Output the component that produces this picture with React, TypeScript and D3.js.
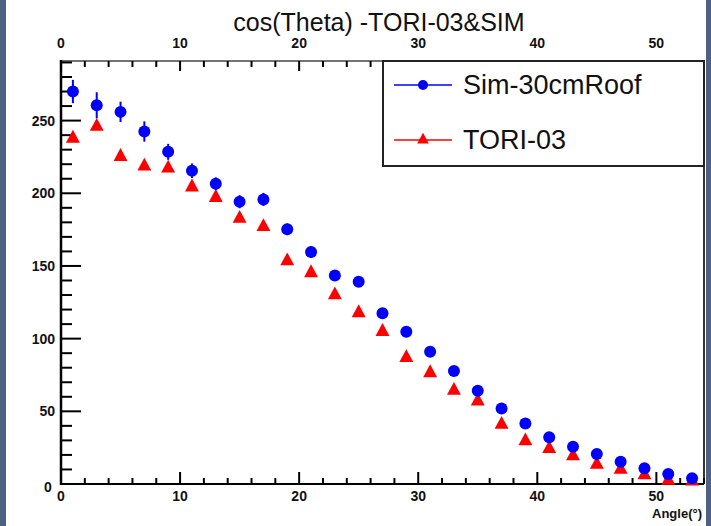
import React from "react";
import * as d3 from "d3";

// Bin centres (degrees) shared by both series
const angles = [1, 3, 5, 7, 9, 11, 13, 15, 17, 19, 21, 23, 25, 27, 29, 31, 33, 35, 37, 39, 41, 43, 45, 47, 49, 51, 53];

// Simulation with 30 cm roof
const simValues = [270, 260.5, 256, 242.5, 228.5, 215.5, 206.5, 194.2, 195.8, 175.2, 159.6, 143.5, 139.1, 117.4, 104.8, 91, 77.7, 64.2, 52, 41.7, 32.1, 25.7, 20.6, 15.3, 10.8, 6.9, 3.9];
const simErrors = [8, 9, 7, 7, 5.5, 5, 4.5, 4.5, 4.5, 4, 4, 3.5, 3.5, 3.5, 3, 3, 3, 2.5, 2.5, 2, 2, 2, 1.5, 1.5, 1.5, 1, 1];

// TORI-03 measurement
const toriValues = [238.5, 246.7, 226, 219.4, 218, 205, 197.8, 183.4, 177.7, 154.2, 146, 130.8, 118.5, 105.6, 87.6, 77.2, 65.1, 57.8, 41.7, 30.3, 25, 20, 14.2, 10.8, 6.9, 3.2, 2.7];

const xTickLabels = [0, 10, 20, 30, 40, 50];
const yTickLabels = [0, 50, 100, 150, 200, 250];

const W = 711;
const H = 526;
const left = 61;
const right = 704;
const top = 61;
const bottom = 484;

const font = "'Liberation Sans', Arial, Helvetica, sans-serif";

export default function App() {
  const x = d3.scaleLinear().domain([0, 54]).range([left, right]);
  const y = d3.scaleLinear().domain([0, 291]).range([bottom, top]);

  const xMinor = d3.range(0, 54.01, 2).filter((v) => v % 10 !== 0);
  const yMinor = d3.range(0, 291, 10).filter((v) => v % 50 !== 0);

  const tri = (cx: number, cy: number, s: number) =>
    `M${cx},${cy - s * 0.62} L${cx + s * 0.58},${cy + s * 0.45} L${cx - s * 0.58},${cy + s * 0.45} Z`;

  return (
    <div style={{ position: "absolute", left: 0, top: 0 }}>
      <svg width={W} height={H} style={{ display: "block", fontFamily: font }}>
        <rect x={0} y={0} width={W} height={H} fill="#ffffff" />
        <rect x={0} y={0} width={6} height={H} fill="#4d6283" />
        <rect x={706} y={0} width={5} height={H} fill="#4d6283" />

        {/* title */}
        <text x={379} y={31} textAnchor="middle" fontSize={25} fill="#111">
          cos(Theta) -TORI-03&amp;SIM
        </text>

        {/* frame */}
        <line x1={left} x2={right} y1={top} y2={top} stroke="#444" strokeWidth={1.5} />
        <line x1={right} x2={right} y1={top} y2={bottom} stroke="#333" strokeWidth={2} />
        <line x1={left} x2={left} y1={top - 1} y2={bottom + 1} stroke="#000" strokeWidth={2.5} />
        <line x1={left - 1} x2={right} y1={bottom} y2={bottom} stroke="#000" strokeWidth={2.2} />

        {/* bottom axis */}
        {xTickLabels.map((t) => (
          <g key={`bx${t}`}>
            <line x1={x(t)} x2={x(t)} y1={bottom} y2={bottom - 12} stroke="#000" strokeWidth={2} />
            <text x={x(t)} y={501} textAnchor="middle" fontSize={14} fontWeight="bold" fill="#111">{t}</text>
          </g>
        ))}
        {xMinor.map((t) => (
          <line key={`bm${t}`} x1={x(t)} x2={x(t)} y1={bottom} y2={bottom - 6} stroke="#000" strokeWidth={2} />
        ))}

        {/* top axis */}
        {xTickLabels.map((t) => (
          <g key={`tx${t}`}>
            <line x1={x(t)} x2={x(t)} y1={top} y2={top + 10} stroke="#000" strokeWidth={2} />
            <text x={x(t)} y={48} textAnchor="middle" fontSize={14} fontWeight="bold" fill="#111">{t}</text>
          </g>
        ))}
        {xMinor.map((t) => (
          <line key={`tm${t}`} x1={x(t)} x2={x(t)} y1={top} y2={top + 6} stroke="#000" strokeWidth={2} />
        ))}

        {/* left axis */}
        {yTickLabels.map((t) => (
          <g key={`ly${t}`}>
            <line x1={left} x2={left + 20} y1={y(t)} y2={y(t)} stroke="#000" strokeWidth={2} />
            {t === 0 ? (
              <text x={48} y={492} textAnchor="middle" fontSize={14} fontWeight="bold" fill="#111">0</text>
            ) : (
              <text x={55} y={y(t) + 5} textAnchor="end" fontSize={14} fontWeight="bold" fill="#111">{t}</text>
            )}
          </g>
        ))}
        {yMinor.map((t) => (
          <line key={`lm${t}`} x1={left} x2={left + 11} y1={y(t)} y2={y(t)} stroke="#000" strokeWidth={2} />
        ))}

        <text x={702} y={518} textAnchor="end" fontSize={13} fontWeight="bold" fill="#111">Angle(°)</text>

        {/* simulation error bars and markers */}
        {angles.map((a, i) => (
          <line key={`e${a}`} x1={x(a)} x2={x(a)} y1={y(simValues[i] + simErrors[i])} y2={y(simValues[i] - simErrors[i])} stroke="#0000ff" strokeWidth={2} />
        ))}
        {angles.map((a, i) => (
          <path key={`t${a}`} d={tri(x(a), y(toriValues[i]), 12)} fill="#ff0000" />
        ))}
        {angles.map((a, i) => (
          <circle key={`c${a}`} cx={x(a)} cy={y(simValues[i])} r={6} fill="#0000ff" />
        ))}

        {/* legend */}
        <rect x={383} y={top} width={right - 383} height={105} fill="#fff" stroke="#222" strokeWidth={2} />
        <line x1={394} x2={452} y1={85} y2={85} stroke="#0000ff" strokeWidth={1.5} />
        <circle cx={423} cy={85} r={5} fill="#0000ff" />
        <text x={463} y={94} fontSize={27} fill="#111">Sim-30cmRoof</text>
        <line x1={394} x2={452} y1={140} y2={140} stroke="#ff0000" strokeWidth={1.5} />
        <path d={tri(423, 139, 10)} fill="#ff0000" />
        <text x={463} y={149} fontSize={27} fill="#111">TORI-03</text>
      </svg>
    </div>
  );
}
